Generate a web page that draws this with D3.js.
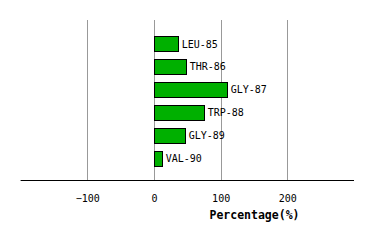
<!DOCTYPE html>
<html>
<head>
<meta charset="utf-8">
<script src="https://cdn.jsdelivr.net/npm/d3@7"></script>
<style>
  body { margin: 0; background: #fff; }
  text { font-family: "DejaVu Sans Mono", monospace; }
</style>
</head>
<body>
<svg id="canvas"></svg>
<script>
const residues = ["LEU-85", "THR-86", "GLY-87", "TRP-88", "GLY-89", "VAL-90"];
const percentages = [35.5, 47.5, 109, 74.5, 46, 11.5];
const tickValues = [-100, 0, 100, 200];

const width = 374;
const height = 240;

const svg = d3.select("#canvas")
    .attr("width", width)
    .attr("height", height);

const x = d3.scaleLinear()
    .domain([-200, 300])
    .range([20.6, 354]);

const y = d3.scaleBand()
    .domain(residues)
    .range([32.6, 169.6])
    .paddingInner(0.34)
    .paddingOuter(0.17);

const gridTop = 20;
const axisY = 180.5;

// vertical grid lines
svg.selectAll("line.grid")
    .data(tickValues)
    .enter()
    .append("line")
    .attr("class", "grid")
    .attr("x1", d => Math.round(x(d)) + 0.5)
    .attr("x2", d => Math.round(x(d)) + 0.5)
    .attr("y1", gridTop)
    .attr("y2", axisY)
    .attr("stroke", "#999")
    .attr("stroke-width", 1);

// bars
svg.selectAll("rect")
    .data(residues)
    .enter()
    .append("rect")
    .attr("x", Math.round(x(0)) + 0.5)
    .attr("y", d => Math.round(y(d)) + 0.5)
    .attr("width", (d, i) => Math.round(x(percentages[i]) - x(0)))
    .attr("height", Math.round(y.bandwidth()))
    .attr("fill", "#00b000")
    .attr("stroke", "#000")
    .attr("stroke-width", 1);

// bar labels
svg.selectAll("text.label")
    .data(residues)
    .enter()
    .append("text")
    .attr("class", "label")
    .attr("x", (d, i) => x(percentages[i]) + 4)
    .attr("y", d => y(d) + y.bandwidth() / 2)
    .attr("dy", "0.35em")
    .style("font-size", "10px")
    .text(d => d);

// x axis
const axis = svg.append("g")
    .attr("transform", `translate(0,${axisY})`)
    .call(d3.axisBottom(x).tickValues(tickValues).tickSize(0).tickPadding(14).tickFormat(d3.format("d")));
axis.select(".domain").attr("stroke", "#000").attr("d", `M${x.range()[0]},0H${x.range()[1]}`);
axis.selectAll("text")
    .style("font-family", "'DejaVu Sans Mono', monospace")
    .style("font-size", "10px")
    .attr("fill", "#000");

svg.append("text")
    .attr("x", 254.5)
    .attr("y", 219)
    .attr("text-anchor", "middle")
    .style("font-size", "11.5px")
    .style("font-weight", "bold")
    .text("Percentage(%)");
</script>
</body>
</html>
